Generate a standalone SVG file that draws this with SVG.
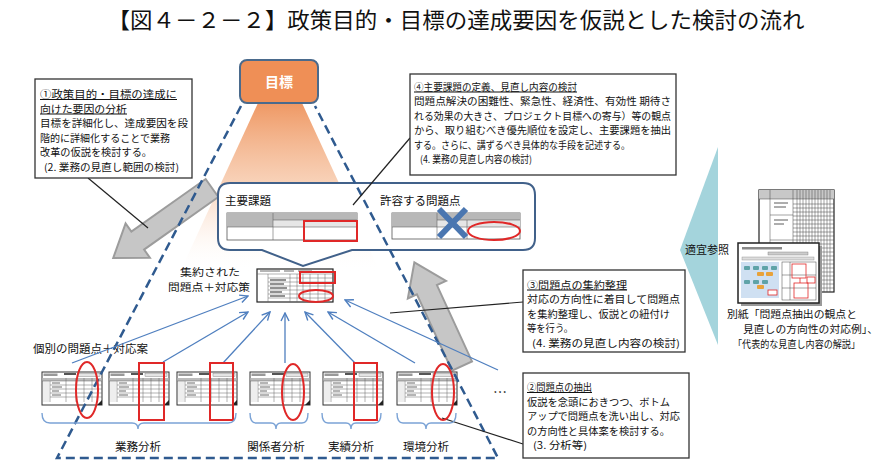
<svg xmlns="http://www.w3.org/2000/svg" width="886" height="471" viewBox="0 0 886 471">
<style>
text{font-family:"Noto Sans CJK JP","Noto Sans",sans-serif;fill:#111}
.t11{font-size:10px}
.ul{text-decoration:underline}
.box{fill:#fff;stroke:#333;stroke-width:1.3}
.blk{stroke:#222;stroke-width:1.2;fill:none}
.blu{stroke:#4F7FBF;stroke-width:1.3;fill:none;marker-end:url(#ah)}
.brace{stroke:#7BA3D6;stroke-width:1.4;fill:none}
.red{stroke:#E02828;stroke-width:2;fill:none}
.garrow{fill:#C6C6C6;stroke:#9C9C9C;stroke-width:2}
.dash{stroke:#2F5A8F;stroke-width:2.5;fill:none;stroke-dasharray:9 5}
.grid{stroke:#666;stroke-width:0.5}
</style>
<defs>
<marker id="ah" viewBox="0 0 10 10" refX="9" refY="5" markerWidth="10" markerHeight="10" orient="auto" markerUnits="userSpaceOnUse">
<path d="M1,1 L9,5 L1,9" fill="none" stroke="#4F7FBF" stroke-width="1.4"/>
</marker>
<linearGradient id="glow" x1="0" y1="0" x2="0" y2="1">
<stop offset="0" stop-color="#EE935C" stop-opacity="0.95"/>
<stop offset="0.5" stop-color="#F4B890" stop-opacity="0.6"/>
<stop offset="1" stop-color="#FFFFFF" stop-opacity="0"/>
</linearGradient>
<g id="doc">
<rect x="0" y="0" width="60" height="33" fill="#fff" stroke="#333" stroke-width="1"/>
<rect x="1.5" y="1.5" width="14" height="2.5" fill="#999"/>
<rect x="22" y="1" width="12" height="2" fill="#555"/>
<rect x="36" y="1.5" width="22" height="3" fill="#e4e4e4" stroke="#777" stroke-width="0.4"/>
<rect x="0.5" y="6" width="59" height="3" fill="#bbb"/>
<rect x="1" y="9" width="6" height="21" fill="#eee"/>
<g class="grid">
<path d="M0,9H60M8,13H60M8,17H60M8,21H60M8,25H60M8,9V30M24,6V30M34,6V30M42,6V30M50,6V30"/>
</g>
<path d="M10,11h8M10,15h10M10,19h7M10,23h9" stroke="#444" stroke-width="0.8"/>
<path d="M55,33 L60,28 L60,33 Z" fill="#222"/>
</g>
</defs>

<text x="456" y="28" font-size="22" text-anchor="middle" textLength="697" lengthAdjust="spacingAndGlyphs">【図４－２－２】政策目的・目標の達成要因を仮説とした検討の流れ</text>

<!-- orange glow -->
<polygon points="258,103 302,103 380,272 180,272" fill="url(#glow)"/>

<!-- gray block arrows -->
<g id="arrow-left">
<polygon class="garrow" transform="translate(212,188) rotate(144.7)" points="0,-11 91,-11 91,-21 121,0 91,21 91,11 0,11"/>
</g>
<g id="arrow-right">
<polygon class="garrow" transform="translate(462,366) rotate(245.3)" points="0,-11 84,-11 84,-21 114,0 84,21 84,11 0,11"/>
</g>

<!-- goal node -->
<g id="goal">
<rect x="240" y="60" width="78" height="43" rx="7" fill="#EF8F56" stroke="#4A6A8C" stroke-width="2"/>
<text x="279" y="87" text-anchor="middle" font-size="14" font-weight="bold" style="fill:#fff">目標</text>
</g>

<!-- popup -->
<g id="popup">
<path d="M230,183 H523 Q535,183 535,195 V238 Q535,250 523,250 H352 L303,266 L262,250 H230 Q218,250 218,238 V195 Q218,183 230,183 Z" fill="#fff" stroke="#41618A" stroke-width="2"/>
<text x="225" y="205" font-size="11.5">主要課題</text>
<text x="380" y="205" font-size="11.5">許容する問題点</text>
<g id="table-main">
<rect x="227" y="213" width="130" height="27" fill="#fff" stroke="#555" stroke-width="0.8"/>
<rect x="227" y="213" width="46" height="14" fill="#B8B8B8"/>
<rect x="273" y="213" width="84" height="7" fill="#B8B8B8"/>
<rect x="273" y="220" width="84" height="7" fill="#E6E6E6"/>
<path d="M273,213V240M304,220V240M273,220H357M227,227H357" stroke="#666" stroke-width="0.6"/>
<rect class="red" x="304" y="221" width="53" height="20"/>
</g>
<g id="table-allow">
<rect x="392" y="213" width="128" height="26" fill="#fff" stroke="#555" stroke-width="0.8"/>
<rect x="392" y="213" width="45" height="14" fill="#B8B8B8"/>
<rect x="437" y="213" width="83" height="7" fill="#B8B8B8"/>
<rect x="437" y="220" width="83" height="7" fill="#E6E6E6"/>
<path d="M437,213V239M467,220V239M437,220H520M392,227H520" stroke="#666" stroke-width="0.6"/>
<path d="M439,209 L466,237 M466,209 L439,237" stroke="#4A76B0" stroke-width="6"/>
<ellipse class="red" cx="494" cy="231" rx="26" ry="9"/>
</g>
</g>

<!-- aggregated table -->
<g id="aggregated">
<rect x="257" y="269" width="76" height="33" fill="#fff" stroke="#222" stroke-width="1.2"/>
<path d="M260,271h20M284,271h10M298,271h14" stroke="#444" stroke-width="0.8"/>
<g class="grid">
<path d="M257,274H333M268,278H333M268,282H333M268,286H333M268,290H333M268,294H333M268,298H333M268,274V302M290,274V302M297,274V302M303,274V302M310,274V302M318,274V302M325,274V302"/>
</g>
<path d="M270,280h16M270,284h14M270,288h17M270,292h12M270,296h15" stroke="#222" stroke-width="1"/>
<rect class="red" x="300" y="272" width="35" height="11"/>
<ellipse class="red" cx="316" cy="296" rx="17" ry="6"/>
<text x="210" y="275.5" font-size="10.3" text-anchor="middle" textLength="60" lengthAdjust="spacingAndGlyphs">集約された</text>
<text x="209" y="290.5" font-size="10.3" text-anchor="middle" textLength="82" lengthAdjust="spacingAndGlyphs">問題点＋対応策</text>
</g>

<!-- individual docs -->
<g id="docs">
<text x="33" y="353" font-size="11.5">個別の問題点＋対応案</text>
<use href="#doc" x="42" y="372"/>
<use href="#doc" x="109" y="372"/>
<use href="#doc" x="177" y="372"/>
<use href="#doc" x="250" y="372"/>
<use href="#doc" x="323" y="372"/>
<use href="#doc" x="397" y="372"/>
<text x="500" y="397" font-size="14" text-anchor="middle">…</text>
</g>

<!-- frame dashed triangle -->
<g id="frame">
<polyline class="dash" points="241,106 57,458 498,458 315,106"/>
</g>

<!-- connectors -->
<g id="connectors">
<path class="blk" d="M88,178 L148,228"/>
<path class="blk" d="M410,138 L353,205"/>
<path class="blk" d="M523,302 L390,313"/>
<path class="blk" d="M523,444 L442,418"/>
<path class="blu" d="M72,363 L248,296"/>
<path class="blu" d="M163,362 L248,312"/>
<path class="blu" d="M223,363 L270,312"/>
<path class="blu" d="M285,363 L285,313"/>
<path class="blu" d="M355,363 L305,312"/>
<path class="blu" d="M415,363 L328,312"/>
<path class="blu" d="M498,370 L345,300"/>
</g>

<!-- red marks on docs -->
<g id="marks">
<ellipse class="red" cx="87" cy="390" rx="11" ry="28"/>
<rect class="red" x="139" y="363" width="25" height="57"/>
<rect class="red" x="210" y="363" width="23" height="57"/>
<ellipse class="red" cx="293" cy="392" rx="11" ry="28"/>
<rect class="red" x="354" y="363" width="23" height="57"/>
<ellipse class="red" cx="443" cy="392" rx="11" ry="28"/>
</g>

<!-- braces + labels -->
<g id="groups">
<path class="brace" d="M42,413 Q42,423 50,423 H132 Q138,423 138,429 Q138,423 144,423 H228 Q236,423 236,413"/>
<path class="brace" d="M250,413 Q250,423 256,423 H271 Q276,423 276,429 Q276,423 281,423 H302 Q308,423 308,413"/>
<path class="brace" d="M322,413 Q322,423 328,423 H346 Q351,423 351,429 Q351,423 356,423 H375 Q381,423 381,413"/>
<path class="brace" d="M397,413 Q397,423 403,423 H421 Q426,423 426,429 Q426,423 431,423 H450 Q456,423 456,413"/>
<text x="138" y="451" font-size="11.5" text-anchor="middle">業務分析</text>
<text x="276" y="451" font-size="11.5" text-anchor="middle">関係者分析</text>
<text x="351" y="451" font-size="11.5" text-anchor="middle">実績分析</text>
<text x="426" y="451" font-size="11.5" text-anchor="middle">環境分析</text>
</g>

<!-- step 1 box -->
<g id="step1">
<rect class="box" x="35" y="79" width="157" height="99"/>
<text class="t11 ul" x="40" y="98" textLength="137" lengthAdjust="spacingAndGlyphs">①政策目的・目標の達成に</text>
<text class="t11 ul" x="40" y="112.5" textLength="87" lengthAdjust="spacingAndGlyphs">向けた要因の分析</text>
<text class="t11" x="40" y="127" textLength="148" lengthAdjust="spacingAndGlyphs">目標を詳細化し、達成要因を段</text>
<text class="t11" x="40" y="141.5" textLength="130" lengthAdjust="spacingAndGlyphs">階的に詳細化することで業務</text>
<text class="t11" x="40" y="156" textLength="112" lengthAdjust="spacingAndGlyphs">改革の仮説を検討する。</text>
<text class="t11" x="44" y="170.5" textLength="135" lengthAdjust="spacingAndGlyphs">(2. 業務の見直し範囲の検討)</text>
</g>

<!-- step 4 box -->
<g id="step4">
<rect class="box" x="410" y="74" width="266" height="101"/>
<text class="t11 ul" x="414" y="90.5" textLength="163" lengthAdjust="spacingAndGlyphs">④主要課題の定義、見直し内容の検討</text>
<text class="t11" x="414" y="105" textLength="257" lengthAdjust="spacingAndGlyphs">問題点解決の困難性、緊急性、経済性、有効性 期待さ</text>
<text class="t11" x="414" y="119.5" textLength="257" lengthAdjust="spacingAndGlyphs">れる効果の大きさ、プロジェクト目標への寄与）等の観点</text>
<text class="t11" x="414" y="134" textLength="257" lengthAdjust="spacingAndGlyphs">から、取り組むべき優先順位を設定し、主要課題を抽出</text>
<text class="t11" x="414" y="148.5" textLength="216" lengthAdjust="spacingAndGlyphs">する。さらに、講ずるべき具体的な手段を記述する。</text>
<text class="t11" x="420" y="163" textLength="112" lengthAdjust="spacingAndGlyphs">(4. 業務の見直し内容の検討)</text>
</g>

<!-- step 3 box -->
<g id="step3">
<rect class="box" x="523" y="270" width="162" height="82"/>
<text class="t11 ul" x="527" y="288.5" textLength="100" lengthAdjust="spacingAndGlyphs">③問題点の集約整理</text>
<text class="t11" x="527" y="303" textLength="153" lengthAdjust="spacingAndGlyphs">対応の方向性に着目して問題点</text>
<text class="t11" x="527" y="317.5" textLength="143" lengthAdjust="spacingAndGlyphs">を集約整理し、仮説との紐付け</text>
<text class="t11" x="527" y="332" textLength="46" lengthAdjust="spacingAndGlyphs">等を行う。</text>
<text class="t11" x="532" y="346.5" textLength="148" lengthAdjust="spacingAndGlyphs">(4. 業務の見直し内容の検討)</text>
</g>

<!-- step 2 box -->
<g id="step2">
<rect class="box" x="523" y="373" width="166" height="85"/>
<text class="t11 ul" x="527" y="391" textLength="65" lengthAdjust="spacingAndGlyphs">②問題点の抽出</text>
<text class="t11" x="527" y="405.5" textLength="143" lengthAdjust="spacingAndGlyphs">仮説を念頭におきつつ、ボトム</text>
<text class="t11" x="527" y="420" textLength="153" lengthAdjust="spacingAndGlyphs">アップで問題点を洗い出し、対応</text>
<text class="t11" x="527" y="434.5" textLength="143" lengthAdjust="spacingAndGlyphs">の方向性と具体案を検討する。</text>
<text class="t11" x="533" y="449" textLength="54" lengthAdjust="spacingAndGlyphs">(3. 分析等)</text>
</g>

<!-- reference material -->
<g id="reference">
<polygon points="718,147 718,345 680,250" fill="#A4D4DC"/>
<text x="685" y="254" font-size="11">適宜参照</text>
<g id="ref-back">
<rect x="759" y="190" width="75" height="102" fill="#fff" stroke="#222" stroke-width="1.2"/>
<rect x="759" y="190" width="75" height="9" fill="#C8C8C8"/>
<g stroke="#444" stroke-width="0.5">
<path d="M770,190V292M793,190V292M797,190V292M800,190V292M803,190V292M806,190V292M809,190V292M812,190V292M815,190V292M818,190V292M821,190V292M824,190V292M827,190V292M830,190V292"/>
<path d="M759,199H834M793,204H834M793,208H834M793,212H834M793,216H834M793,220H834M793,224H834M793,228H834M793,232H834M793,236H834M793,240H834M793,244H834M793,248H834M793,252H834M793,256H834M793,260H834M793,264H834M793,268H834M793,272H834M793,276H834M793,280H834M793,284H834M793,288H834M770,215H793M770,240H793M770,262H793M770,280H793"/>
</g>
<path d="M774,203h14M774,207h12M774,220h14M774,224h10M774,246h13" stroke="#333" stroke-width="0.8"/>
</g>
<g id="ref-front">
<rect x="741" y="246" width="81" height="60" fill="#999"/>
<rect x="738" y="243" width="81" height="60" fill="#fff" stroke="#222" stroke-width="1.5"/>
<rect x="742" y="247" width="40" height="2.5" fill="#888"/>
<rect x="768" y="252" width="40" height="3" fill="#ccc" stroke="#777" stroke-width="0.4"/>
<rect x="742" y="257" width="72" height="3" fill="#ddd" stroke="#888" stroke-width="0.4"/>
<rect x="741" y="262" width="38" height="36" fill="#CFE0F2"/>
<g fill="#5FA3A8">
<rect x="744" y="266" width="6" height="4" rx="1"/><rect x="753" y="266" width="6" height="4" rx="1"/><rect x="762" y="266" width="6" height="4" rx="1"/><rect x="771" y="266" width="6" height="4" rx="1"/>
<rect x="744" y="280" width="6" height="4" rx="1"/><rect x="753" y="280" width="6" height="4" rx="1"/><rect x="762" y="280" width="6" height="4" rx="1"/>
</g>
<g fill="#E8A23A">
<rect x="757" y="272" width="7" height="4" rx="1"/><rect x="766" y="272" width="7" height="4" rx="1"/><rect x="757" y="285" width="7" height="4" rx="1"/>
</g>
<rect x="768" y="290" width="9" height="5" fill="#fff" stroke="#E02828" stroke-width="0.8"/>
<g stroke="#444" stroke-width="0.5" fill="none">
<rect x="782" y="262" width="34" height="38"/>
<path d="M782,275H816M782,288H816M790,262V300"/>
</g>
<g stroke="#E02828" stroke-width="0.8" fill="none">
<rect x="792" y="264" width="14" height="14"/>
<rect x="794" y="283" width="14" height="15"/>
<rect x="807" y="277" width="8" height="6"/>
<path d="M800,278V283"/>
</g>
</g>
<text class="t11" x="727" y="318" textLength="130" lengthAdjust="spacingAndGlyphs">別紙「問題点抽出の観点と</text>
<text class="t11" x="743" y="333" textLength="135" lengthAdjust="spacingAndGlyphs">見直しの方向性の対応例」、</text>
<text class="t11" x="733" y="348" textLength="127" lengthAdjust="spacingAndGlyphs">「代表的な見直し内容の解説」</text>
</g>
</svg>
